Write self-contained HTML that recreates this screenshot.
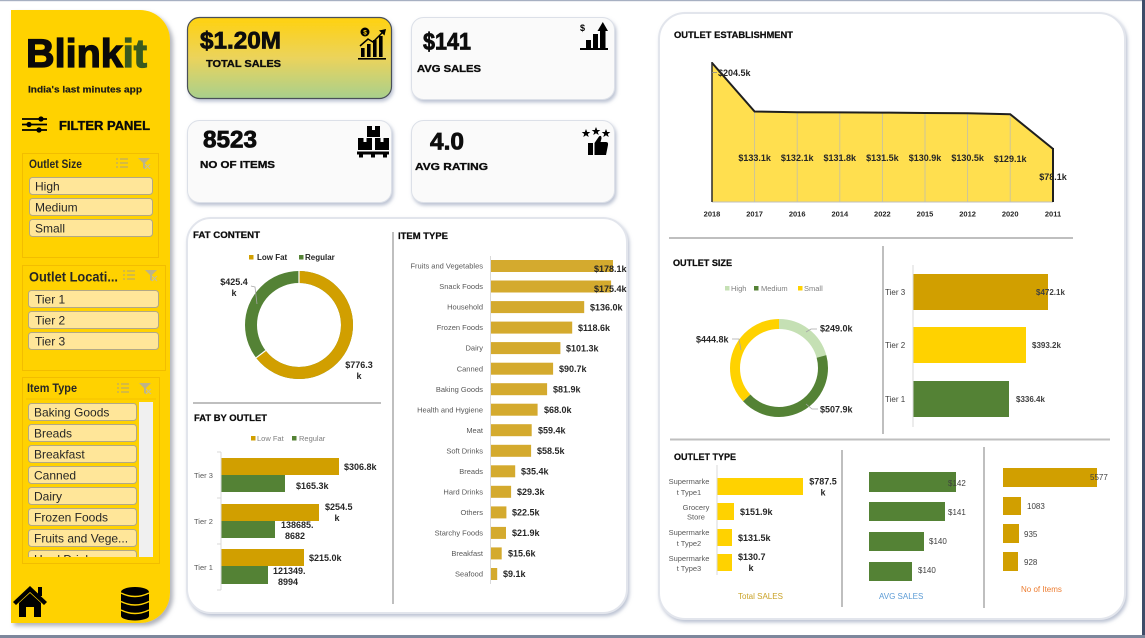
<!DOCTYPE html>
<html><head><meta charset="utf-8"><style>
html,body{margin:0;padding:0;background:#fff;width:1145px;height:638px;overflow:hidden;}
svg{display:block;font-family:"Liberation Sans",Arial,sans-serif;}
.t{font-weight:bold;font-size:9.5px;fill:#0d0d0d;stroke:#0d0d0d;stroke-width:0.25;}
.v{font-weight:bold;font-size:9px;fill:#262626;}
.c{font-size:7.5px;fill:#595959;}
.lg{font-size:7.5px;fill:#7f7f7f;}
.btn{font-size:12px;fill:#262626;}
.k1{font-weight:bold;fill:#0d0d0d;stroke:#0d0d0d;}
</style></head><body>
<svg width="1145" height="638" viewBox="0 0 1145 638" xmlns="http://www.w3.org/2000/svg">
<defs>
<filter id="sh" x="-10%" y="-5%" width="130%" height="115%"><feDropShadow dx="3" dy="3" stdDeviation="2" flood-color="#6f7686" flood-opacity="0.55"/></filter>
<filter id="sh2" x="-10%" y="-10%" width="130%" height="130%"><feDropShadow dx="1.5" dy="2.5" stdDeviation="1.8" flood-color="#8f9bb6" flood-opacity="0.6"/></filter>
<linearGradient id="g1" x1="0" y1="0" x2="0" y2="1"><stop offset="0" stop-color="#FFD20F"/><stop offset="0.5" stop-color="#EBD35C"/><stop offset="1" stop-color="#A8D08D"/></linearGradient>
<clipPath id="itclip"><rect x="22" y="400" width="140" height="157"/></clipPath>
</defs>

<!-- page borders -->
<rect x="0" y="0" width="1145" height="1.2" fill="#A7B0C2"/>
<rect x="1142" y="0" width="3" height="638" fill="#3E4C68"/>
<rect x="0" y="635" width="1145" height="3" fill="#7D879C"/>

<!-- LEFT PANEL -->
<path d="M11,10 H140 A30,30 0 0 1 170,40 V593 A30,30 0 0 1 140,623 H11 Z" fill="#FFD200" filter="url(#sh)"/>
<text x="26" y="67" font-size="40" font-weight="bold" fill="#0a0a0a" stroke="#0a0a0a" stroke-width="1.3" textLength="121" lengthAdjust="spacingAndGlyphs">Blink<tspan fill="#3A5A1E" stroke="#3A5A1E">it</tspan></text>
<text x="28" y="92.5" font-size="9.5" font-weight="bold" fill="#1a1a1a" stroke="#1a1a1a" stroke-width="0.2" textLength="114" lengthAdjust="spacingAndGlyphs">India's last minutes app</text>
<!-- filter icon -->
<g stroke="#000" stroke-width="1.8">
<line x1="22" y1="119" x2="47" y2="119"/><line x1="22" y1="124.5" x2="47" y2="124.5"/><line x1="22" y1="130" x2="47" y2="130"/>
</g>
<circle cx="41" cy="119" r="2.6" fill="#000"/><circle cx="29" cy="124.5" r="2.6" fill="#000"/><circle cx="39" cy="130" r="2.6" fill="#000"/>
<text x="59" y="130" font-size="12.5" font-weight="bold" fill="#0a0a0a" stroke="#0a0a0a" stroke-width="0.35" textLength="91" lengthAdjust="spacingAndGlyphs">FILTER PANEL</text>

<!-- slicer 1 -->
<rect x="22.5" y="153.5" width="136" height="104" fill="none" stroke="#F2BD00" stroke-width="1"/>
<text x="29" y="168" font-size="11.5" font-weight="bold" fill="#262626" textLength="53" lengthAdjust="spacingAndGlyphs">Outlet Size</text>
<g stroke="#B3A774" stroke-width="1.1"><line x1="120" y1="159" x2="128" y2="159"/><line x1="120" y1="163" x2="128" y2="163"/><line x1="120" y1="167" x2="128" y2="167"/><line x1="116" y1="159" x2="118" y2="159"/><line x1="116" y1="163" x2="118" y2="163"/><line x1="116" y1="167" x2="118" y2="167"/></g>
<path d="M138,158 H150 L145,163 V169 L143,168 V163 Z" fill="#BDB38A"/><path d="M145,164 L150,169 M150,164 L145,169" stroke="#C9BF95" stroke-width="1.2"/>
<g>
<rect x="29.5" y="177.5" width="123" height="17" rx="3" fill="#FFE699" stroke="#B2A886"/>
<text x="35" y="190.5" class="btn">High</text>
<rect x="29.5" y="198.5" width="123" height="17" rx="3" fill="#FFE699" stroke="#B2A886"/>
<text x="35" y="211.5" class="btn">Medium</text>
<rect x="29.5" y="219.5" width="123" height="17" rx="3" fill="#FFE699" stroke="#B2A886"/>
<text x="35" y="232.5" class="btn">Small</text>
</g>

<!-- slicer 2 -->
<rect x="22.5" y="265.5" width="143" height="105" fill="none" stroke="#F2BD00" stroke-width="1"/>
<text x="29" y="281.5" font-size="14" font-weight="bold" fill="#262626" textLength="89" lengthAdjust="spacingAndGlyphs">Outlet Locati...</text>
<g stroke="#B3A774" stroke-width="1.1"><line x1="127" y1="271" x2="135" y2="271"/><line x1="127" y1="275" x2="135" y2="275"/><line x1="127" y1="279" x2="135" y2="279"/><line x1="123" y1="271" x2="125" y2="271"/><line x1="123" y1="275" x2="125" y2="275"/><line x1="123" y1="279" x2="125" y2="279"/></g>
<path d="M145,270 H157 L152,275 V281 L150,280 V275 Z" fill="#BDB38A"/><path d="M152,276 L157,281 M157,276 L152,281" stroke="#C9BF95" stroke-width="1.2"/>
<rect x="28.5" y="290.5" width="130" height="17" rx="3" fill="#FFE699" stroke="#B2A886"/>
<text x="35" y="303.5" class="btn">Tier 1</text>
<rect x="28.5" y="311.5" width="130" height="17" rx="3" fill="#FFE699" stroke="#B2A886"/>
<text x="35" y="324.5" class="btn">Tier 2</text>
<rect x="28.5" y="332.5" width="130" height="17" rx="3" fill="#FFE699" stroke="#B2A886"/>
<text x="35" y="345.5" class="btn">Tier 3</text>

<!-- slicer 3 -->
<rect x="22.5" y="377.5" width="137" height="186" fill="none" stroke="#F2BD00" stroke-width="1"/>
<text x="27" y="392" font-size="11.5" font-weight="bold" fill="#262626" textLength="50" lengthAdjust="spacingAndGlyphs">Item Type</text>
<line x1="26" y1="399" x2="156" y2="399" stroke="#F2BD00" stroke-width="0.8"/>
<g stroke="#B3A774" stroke-width="1.1"><line x1="121" y1="384" x2="129" y2="384"/><line x1="121" y1="388" x2="129" y2="388"/><line x1="121" y1="392" x2="129" y2="392"/><line x1="117" y1="384" x2="119" y2="384"/><line x1="117" y1="388" x2="119" y2="388"/><line x1="117" y1="392" x2="119" y2="392"/></g>
<path d="M139,383 H151 L146,388 V394 L144,393 V388 Z" fill="#BDB38A"/><path d="M146,389 L151,394 M151,389 L146,394" stroke="#C9BF95" stroke-width="1.2"/>
<rect x="139" y="402" width="14" height="155" fill="#F0F0F0"/>
<g clip-path="url(#itclip)">
<rect x="28.5" y="403.5" width="108" height="17" rx="3" fill="#FFE699" stroke="#B2A886"/><text x="34" y="416.5" class="btn">Baking Goods</text>
<rect x="28.5" y="424.5" width="108" height="17" rx="3" fill="#FFE699" stroke="#B2A886"/><text x="34" y="437.5" class="btn">Breads</text>
<rect x="28.5" y="445.5" width="108" height="17" rx="3" fill="#FFE699" stroke="#B2A886"/><text x="34" y="458.5" class="btn">Breakfast</text>
<rect x="28.5" y="466.5" width="108" height="17" rx="3" fill="#FFE699" stroke="#B2A886"/><text x="34" y="479.5" class="btn">Canned</text>
<rect x="28.5" y="487.5" width="108" height="17" rx="3" fill="#FFE699" stroke="#B2A886"/><text x="34" y="500.5" class="btn">Dairy</text>
<rect x="28.5" y="508.5" width="108" height="17" rx="3" fill="#FFE699" stroke="#B2A886"/><text x="34" y="521.5" class="btn">Frozen Foods</text>
<rect x="28.5" y="529.5" width="108" height="17" rx="3" fill="#FFE699" stroke="#B2A886"/><text x="34" y="542.5" class="btn">Fruits and Vege...</text>
<rect x="28.5" y="550.5" width="108" height="17" rx="3" fill="#FFE699" stroke="#B2A886"/><text x="34" y="563.5" class="btn">Hard Drinks</text>
</g>

<!-- home icon -->
<path d="M13,602 L30,586 L47,602 L44,605 L30,592 L16,605 Z" fill="#000"/>
<rect x="38" y="587" width="4" height="9" fill="#000"/>
<path d="M19,603 L30,593 L41,603 V617 H34 V607 H26 V617 H19 Z" fill="#000"/>
<!-- database icon -->
<ellipse cx="135" cy="592" rx="14" ry="5" fill="#000"/>
<rect x="121" y="592" width="28" height="24" fill="#000"/>
<ellipse cx="135" cy="616" rx="14" ry="4.5" fill="#000"/>
<path d="M121,593 Q135,600 149,593 M121,601.5 Q135,608.5 149,601.5 M121,610 Q135,617 149,610" stroke="#FFD200" stroke-width="1.4" fill="none"/>

<!-- KPI CARDS -->
<rect x="187.5" y="17.5" width="204" height="81" rx="12" fill="url(#g1)" stroke="#4A5058" stroke-width="1.2" filter="url(#sh2)"/>
<rect x="411.5" y="17.5" width="203" height="82" rx="12" fill="#FAFAFA" stroke="#DCE0E8" filter="url(#sh2)"/>
<rect x="187.5" y="120.5" width="204" height="82" rx="12" fill="#FAFAFA" stroke="#DCE0E8" filter="url(#sh2)"/>
<rect x="411.5" y="120.5" width="203" height="82" rx="12" fill="#FAFAFA" stroke="#DCE0E8" filter="url(#sh2)"/>

<text x="200" y="48.5" font-size="24" class="k1" stroke-width="0.8" textLength="81" lengthAdjust="spacingAndGlyphs">$1.20M</text>
<text x="206" y="67" font-size="10.5" class="k1" stroke-width="0.35" textLength="75" lengthAdjust="spacingAndGlyphs">TOTAL SALES</text>
<text x="423" y="49.5" font-size="24" class="k1" stroke-width="0.8" textLength="48" lengthAdjust="spacingAndGlyphs">$141</text>
<text x="417" y="72" font-size="10.5" class="k1" stroke-width="0.35" textLength="64" lengthAdjust="spacingAndGlyphs">AVG  SALES</text>
<text x="203" y="147.5" font-size="24" class="k1" stroke-width="0.8" textLength="54" lengthAdjust="spacingAndGlyphs">8523</text>
<text x="200" y="168" font-size="10.5" class="k1" stroke-width="0.35" textLength="75" lengthAdjust="spacingAndGlyphs">NO OF ITEMS</text>
<text x="430" y="149.5" font-size="24" class="k1" stroke-width="0.8" textLength="34" lengthAdjust="spacingAndGlyphs">4.0</text>
<text x="415" y="170" font-size="10.5" class="k1" stroke-width="0.35" textLength="73" lengthAdjust="spacingAndGlyphs">AVG RATING</text>

<!-- icon total sales -->
<circle cx="365" cy="32" r="4.5" fill="#000"/><text x="365" y="34.5" font-size="6.5" font-weight="bold" fill="#FFD20F" text-anchor="middle">$</text>
<polyline points="360,46 368,39 373,42 383,32" fill="none" stroke="#000" stroke-width="1.5"/>
<polygon points="386,29 379,30.5 384.5,35.5" fill="#000"/>
<rect x="361" y="48" width="3.6" height="9" fill="#000"/><rect x="367" y="44" width="3.6" height="13" fill="#000"/><rect x="373" y="40" width="3.6" height="17" fill="#000"/><rect x="379" y="36" width="3.6" height="21" fill="#000"/>
<rect x="358" y="58" width="28" height="1.6" fill="#000"/>
<!-- icon avg sales -->
<text x="580" y="31" font-size="9" font-weight="bold" fill="#000">$</text>
<rect x="586" y="40" width="5" height="8" fill="#000"/><rect x="593" y="34" width="5" height="14" fill="#000"/><rect x="600" y="30" width="5.5" height="18" fill="#000"/>
<polygon points="597.5,31 602.8,22 608,31" fill="#000"/>
<rect x="580" y="48" width="28" height="2" fill="#000"/>
<!-- icon items -->
<rect x="367" y="126" width="13" height="11" fill="#000"/><rect x="372" y="126" width="3" height="4" fill="#FAFAFA"/>
<rect x="358" y="138" width="14" height="12" fill="#000"/><rect x="363.5" y="138" width="3" height="4" fill="#FAFAFA"/>
<rect x="375" y="138" width="14" height="12" fill="#000"/><rect x="380.5" y="138" width="3" height="4" fill="#FAFAFA"/>
<rect x="357" y="151.5" width="32" height="3" fill="#000"/><rect x="359" y="154" width="4" height="3.5" fill="#000"/><rect x="371" y="154" width="4" height="3.5" fill="#000"/><rect x="383" y="154" width="4" height="3.5" fill="#000"/>
<!-- icon rating -->
<polygon points="586,129 587.2,132 590.3,132 587.8,134 588.7,137 586,135.2 583.3,137 584.2,134 581.7,132 584.8,132" fill="#000"/>
<polygon points="596,127 597.2,130 600.3,130 597.8,132 598.7,135 596,133.2 593.3,135 594.2,132 591.7,130 594.8,130" fill="#000"/>
<polygon points="606,129 607.2,132 610.3,132 607.8,134 608.7,137 606,135.2 603.3,137 604.2,134 601.7,132 604.8,132" fill="#000"/>
<rect x="588" y="143" width="5" height="12" fill="#000"/>
<path d="M594.5,155 V143 L599,136.5 Q601.5,134.5 601.5,138.5 L600.5,142 H606 Q608.5,142 608,145 L606,155 Z" fill="#000"/>

<!-- MIDDLE PANEL -->
<rect x="187" y="218" width="440" height="395" rx="24" fill="#fff" stroke="#E2E5EC" stroke-width="2" filter="url(#sh2)"/>
<text x="193" y="238" class="t" textLength="67" lengthAdjust="spacingAndGlyphs">FAT CONTENT</text>
<rect x="249" y="255" width="4.5" height="4.5" fill="#D19F00"/><text x="257" y="260" font-size="8" font-weight="bold" fill="#262626">Low Fat</text>
<rect x="299" y="255" width="4.5" height="4.5" fill="#548235"/><text x="305" y="260" font-size="8" font-weight="bold" fill="#262626">Regular</text>
<g transform="rotate(-90 299 325)">
<circle cx="299" cy="325" r="48" fill="none" stroke="#548235" stroke-width="12"/>
<circle cx="299" cy="325" r="48" fill="none" stroke="#D19F00" stroke-width="12" stroke-dasharray="194.8 400"/>
</g>
<line x1="299" y1="270" x2="299" y2="283" stroke="#fff" stroke-width="1.2"/>
<line x1="265.7" y1="350.5" x2="256.1" y2="357.8" stroke="#fff" stroke-width="1.2"/>
<polyline points="251,286 255,287 257,304" fill="none" stroke="#A6A6A6" stroke-width="0.8"/>
<text x="234" y="285" class="v" text-anchor="middle">$425.4</text><text x="234" y="296" class="v" text-anchor="middle">k</text>
<text x="359" y="368" class="v" text-anchor="middle">$776.3</text><text x="359" y="379" class="v" text-anchor="middle">k</text>

<line x1="193" y1="403" x2="381" y2="403" stroke="#BFBFBF" stroke-width="2"/>
<text x="194" y="421" class="t" textLength="73" lengthAdjust="spacingAndGlyphs">FAT BY OUTLET</text>
<rect x="251" y="436" width="4.5" height="4.5" fill="#D19F00"/><text x="257" y="441" class="lg">Low Fat</text>
<rect x="292" y="436" width="4.5" height="4.5" fill="#548235"/><text x="299" y="441" class="lg">Regular</text>
<line x1="221" y1="452" x2="221" y2="590" stroke="#D9D9D9"/>
<g stroke="#D9D9D9"><line x1="217" y1="452" x2="221" y2="452"/><line x1="217" y1="498" x2="221" y2="498"/><line x1="217" y1="544" x2="221" y2="544"/><line x1="217" y1="590" x2="221" y2="590"/></g>
<rect x="221.5" y="458" width="117.5" height="17" fill="#D19F00"/><rect x="221.5" y="475" width="63.5" height="17" fill="#548235"/>
<rect x="221.5" y="504" width="97.5" height="17" fill="#D19F00"/><rect x="221.5" y="521" width="53.5" height="17" fill="#548235"/>
<rect x="221.5" y="549" width="82.5" height="17" fill="#D19F00"/><rect x="221.5" y="566" width="46.5" height="18" fill="#548235"/>
<text x="194" y="478" class="c">Tier 3</text><text x="194" y="524" class="c">Tier 2</text><text x="194" y="570" class="c">Tier 1</text>
<text x="344" y="470" class="v">$306.8k</text>
<text x="296" y="489" class="v">$165.3k</text>
<text x="325" y="510" class="v">$254.5</text><text x="337" y="521" class="v" text-anchor="middle">k</text>
<text x="281" y="528" class="v">138685.</text><text x="295" y="539" class="v" text-anchor="middle">8682</text>
<text x="309" y="561" class="v">$215.0k</text>
<text x="273" y="574" class="v">121349.</text><text x="288" y="585" class="v" text-anchor="middle">8994</text>

<line x1="393" y1="232" x2="393" y2="604" stroke="#BFBFBF" stroke-width="2"/>
<text x="398" y="239" class="t" textLength="50" lengthAdjust="spacingAndGlyphs">ITEM TYPE</text>
<line x1="490.5" y1="256" x2="490.5" y2="584" stroke="#D9D9D9"/>
<g fill="#D4AA2E">
<rect x="491" y="260" width="122" height="12"/>
<rect x="491" y="280.5" width="120.1" height="12"/>
<rect x="491" y="301.1" width="93.2" height="12"/>
<rect x="491" y="321.6" width="81.2" height="12"/>
<rect x="491" y="342.1" width="69.4" height="12"/>
<rect x="491" y="362.7" width="62.1" height="12"/>
<rect x="491" y="383.2" width="56.1" height="12"/>
<rect x="491" y="403.7" width="46.6" height="12"/>
<rect x="491" y="424.2" width="40.7" height="12"/>
<rect x="491" y="444.8" width="40.1" height="12"/>
<rect x="491" y="465.3" width="24.2" height="12"/>
<rect x="491" y="485.8" width="20.1" height="12"/>
<rect x="491" y="506.4" width="15.4" height="12"/>
<rect x="491" y="526.9" width="15" height="12"/>
<rect x="491" y="547.4" width="10.7" height="12"/>
<rect x="491" y="568" width="6.2" height="12"/>
</g>
<g class="c" text-anchor="end">
<text x="483" y="268.6" class="c">Fruits and Vegetables</text>
<text x="483" y="289.1" class="c">Snack Foods</text>
<text x="483" y="309.7" class="c">Household</text>
<text x="483" y="330.2" class="c">Frozen Foods</text>
<text x="483" y="350.7" class="c">Dairy</text>
<text x="483" y="371.3" class="c">Canned</text>
<text x="483" y="391.8" class="c">Baking Goods</text>
<text x="483" y="412.3" class="c">Health and Hygiene</text>
<text x="483" y="432.8" class="c">Meat</text>
<text x="483" y="453.4" class="c">Soft Drinks</text>
<text x="483" y="473.9" class="c">Breads</text>
<text x="483" y="494.4" class="c">Hard Drinks</text>
<text x="483" y="515" class="c">Others</text>
<text x="483" y="535.5" class="c">Starchy Foods</text>
<text x="483" y="556" class="c">Breakfast</text>
<text x="483" y="576.6" class="c">Seafood</text>
</g>
<text x="594" y="272" class="v">$178.1k</text>
<text x="594" y="292" class="v">$175.4k</text>
<text x="590" y="310.3" class="v">$136.0k</text>
<text x="578" y="330.8" class="v">$118.6k</text>
<text x="566" y="351.3" class="v">$101.3k</text>
<text x="559" y="371.9" class="v">$90.7k</text>
<text x="553" y="392.4" class="v">$81.9k</text>
<text x="544" y="412.9" class="v">$68.0k</text>
<text x="538" y="433.4" class="v">$59.4k</text>
<text x="537" y="454" class="v">$58.5k</text>
<text x="521" y="474.5" class="v">$35.4k</text>
<text x="517" y="495" class="v">$29.3k</text>
<text x="512" y="515.6" class="v">$22.5k</text>
<text x="512" y="536.1" class="v">$21.9k</text>
<text x="508" y="556.6" class="v">$15.6k</text>
<text x="503" y="577.2" class="v">$9.1k</text>

<!-- RIGHT PANEL -->
<rect x="659" y="13" width="466" height="606" rx="26" fill="#fff" stroke="#E2E5EC" stroke-width="2" filter="url(#sh2)"/>
<text x="674" y="38" class="t" font-size="9" textLength="119" lengthAdjust="spacingAndGlyphs">OUTLET ESTABLISHMENT</text>
<polygon points="712,62.9 754.6,111.5 797.2,112.2 839.8,112.4 882.4,112.6 925,113 967.6,113.3 1010.2,114.2 1053,148.9 1053,202 712,202" fill="#FFDF4F"/>
<g stroke="#C8C2A0" stroke-width="0.9">
<line x1="754.6" y1="111.5" x2="754.6" y2="202"/><line x1="797.2" y1="112.2" x2="797.2" y2="202"/><line x1="839.8" y1="112.4" x2="839.8" y2="202"/><line x1="882.4" y1="112.6" x2="882.4" y2="202"/><line x1="925" y1="113" x2="925" y2="202"/><line x1="967.6" y1="113.3" x2="967.6" y2="202"/><line x1="1010.2" y1="114.2" x2="1010.2" y2="202"/>
</g>
<line x1="712" y1="202" x2="1053" y2="202" stroke="#BFBFBF"/>
<polyline points="712,62.9 754.6,111.5 797.2,112.2 839.8,112.4 882.4,112.6 925,113 967.6,113.3 1010.2,114.2 1053,148.9" fill="none" stroke="#1f1f1f" stroke-width="2"/>
<line x1="712" y1="62" x2="712" y2="202" stroke="#2a2a2a" stroke-width="1.5"/>
<line x1="1053" y1="148" x2="1053" y2="202" stroke="#1f1f1f" stroke-width="2"/>
<line x1="712" y1="72.5" x2="717" y2="72.5" stroke="#8a8a8a" stroke-width="0.8"/>
<text x="718" y="76" class="v" fill="#0d0d0d">$204.5k</text>
<g text-anchor="middle">
<text x="754.6" y="161" class="v">$133.1k</text>
<text x="797.2" y="161" class="v">$132.1k</text>
<text x="839.8" y="161" class="v">$131.8k</text>
<text x="882.4" y="161" class="v">$131.5k</text>
<text x="925" y="161" class="v">$130.9k</text>
<text x="967.6" y="161" class="v">$130.5k</text>
<text x="1010.2" y="162" class="v">$129.1k</text>
<text x="1053" y="180" class="v">$78.1k</text>
</g>
<g text-anchor="middle" font-size="7.5" font-weight="bold" fill="#262626">
<text x="712" y="216.5">2018</text><text x="754.6" y="216.5">2017</text><text x="797.2" y="216.5">2016</text><text x="839.8" y="216.5">2014</text><text x="882.4" y="216.5">2022</text><text x="925" y="216.5">2015</text><text x="967.6" y="216.5">2012</text><text x="1010.2" y="216.5">2020</text><text x="1053" y="216.5">2011</text>
</g>
<line x1="669" y1="238" x2="1073" y2="238" stroke="#BFBFBF" stroke-width="2"/>

<text x="673" y="266" class="t" textLength="59" lengthAdjust="spacingAndGlyphs">OUTLET SIZE</text>
<rect x="725" y="286" width="4.5" height="4.5" fill="#C5E0B4"/><text x="731" y="291" class="lg">High</text>
<rect x="754" y="286" width="4.5" height="4.5" fill="#548235"/><text x="761" y="291" class="lg">Medium</text>
<rect x="798" y="286" width="4.5" height="4.5" fill="#FFD200"/><text x="804" y="291" class="lg">Small</text>
<g transform="rotate(-90 779 368)" fill="none" stroke-width="10">
<circle cx="779" cy="368" r="44" stroke="#C5E0B4" stroke-dasharray="57.3 300"/>
<circle cx="779" cy="368" r="44" stroke="#548235" stroke-dasharray="116.9 300" stroke-dashoffset="-57.3"/>
<circle cx="779" cy="368" r="44" stroke="#FFD200" stroke-dasharray="102.3 300" stroke-dashoffset="-174.2"/>
</g>
<polyline points="806,332 811,329 817,329" fill="none" stroke="#A6A6A6" stroke-width="0.8"/>
<polyline points="732,339 739,339 741,350" fill="none" stroke="#A6A6A6" stroke-width="0.8"/>
<polyline points="806,404 812,409 818,409" fill="none" stroke="#A6A6A6" stroke-width="0.8"/>
<text x="820" y="331.5" class="v">$249.0k</text>
<text x="696" y="342.5" class="v">$444.8k</text>
<text x="820" y="412.5" class="v">$507.9k</text>

<line x1="883" y1="246" x2="883" y2="434" stroke="#BFBFBF" stroke-width="2"/>
<line x1="913" y1="265" x2="913" y2="427" stroke="#D9D9D9"/>
<rect x="913.5" y="274" width="134.5" height="36" fill="#D19F00"/>
<rect x="913.5" y="327" width="112.5" height="36" fill="#FFD200"/>
<rect x="913.5" y="381" width="95.5" height="36" fill="#548235"/>
<text x="885" y="295" font-size="8" fill="#404040">Tier 3</text>
<text x="885" y="348" font-size="8" fill="#404040">Tier 2</text>
<text x="885" y="402" font-size="8" fill="#404040">Tier 1</text>
<text x="1036" y="295" font-size="8" font-weight="bold" fill="#404040">$472.1k</text>
<text x="1032" y="348" font-size="8" font-weight="bold" fill="#404040">$393.2k</text>
<text x="1016" y="402" font-size="8" font-weight="bold" fill="#404040">$336.4k</text>

<line x1="670" y1="439.5" x2="1110" y2="439.5" stroke="#BFBFBF" stroke-width="2"/>
<text x="674" y="460" class="t" textLength="62" lengthAdjust="spacingAndGlyphs">OUTLET TYPE</text>
<line x1="717" y1="465" x2="717" y2="575" stroke="#D9D9D9"/>
<rect x="717.5" y="478" width="85.5" height="17" fill="#FFD200"/>
<rect x="717.5" y="503" width="16.5" height="17" fill="#FFD200"/>
<rect x="717.5" y="529" width="14.5" height="17" fill="#FFD200"/>
<rect x="717.5" y="554" width="14.5" height="17" fill="#FFD200"/>
<g text-anchor="middle" font-size="7.5" fill="#595959">
<text x="689" y="484">Supermarke</text><text x="689" y="495">t Type1</text>
<text x="696" y="510">Grocery</text><text x="696" y="519.5">Store</text>
<text x="689" y="535">Supermarke</text><text x="689" y="546">t Type2</text>
<text x="689" y="561">Supermarke</text><text x="689" y="571">t Type3</text>
</g>
<text x="823" y="484.5" class="v" text-anchor="middle">$787.5</text><text x="823" y="495.5" class="v" text-anchor="middle">k</text>
<text x="740" y="515" class="v">$151.9k</text>
<text x="738" y="541" class="v">$131.5k</text>
<text x="738" y="560" class="v">$130.7</text><text x="751" y="571" class="v" text-anchor="middle">k</text>
<text x="738" y="599" font-size="8" fill="#C9A227">Total SALES</text>

<line x1="842" y1="450" x2="842" y2="607" stroke="#BFBFBF" stroke-width="2"/>
<rect x="869" y="472" width="87" height="20" fill="#548235"/>
<rect x="869" y="502" width="76" height="19" fill="#548235"/>
<rect x="869" y="532" width="55" height="19" fill="#548235"/>
<rect x="869" y="562" width="43" height="19" fill="#548235"/>
<text x="948" y="486" font-size="8" fill="#404040">$142</text>
<text x="948" y="515" font-size="8" fill="#404040">$141</text>
<text x="929" y="544" font-size="8" fill="#404040">$140</text>
<text x="918" y="573" font-size="8" fill="#404040">$140</text>
<text x="879" y="599" font-size="8" fill="#5B9BD5">AVG SALES</text>

<line x1="984" y1="447" x2="984" y2="608" stroke="#BFBFBF" stroke-width="2"/>
<rect x="1003" y="468" width="94" height="19" fill="#D19F00"/>
<rect x="1003" y="497" width="18" height="18" fill="#D19F00"/>
<rect x="1003" y="524" width="16" height="19" fill="#D19F00"/>
<rect x="1003" y="552" width="15" height="19" fill="#D19F00"/>
<text x="1090" y="480" font-size="8" fill="#404040">5577</text>
<text x="1027" y="509" font-size="8" fill="#404040">1083</text>
<text x="1024" y="537" font-size="8" fill="#404040">935</text>
<text x="1024" y="565" font-size="8" fill="#404040">928</text>
<text x="1021" y="592" font-size="8" fill="#ED7D31">No of Items</text>
</svg>
</body></html>
